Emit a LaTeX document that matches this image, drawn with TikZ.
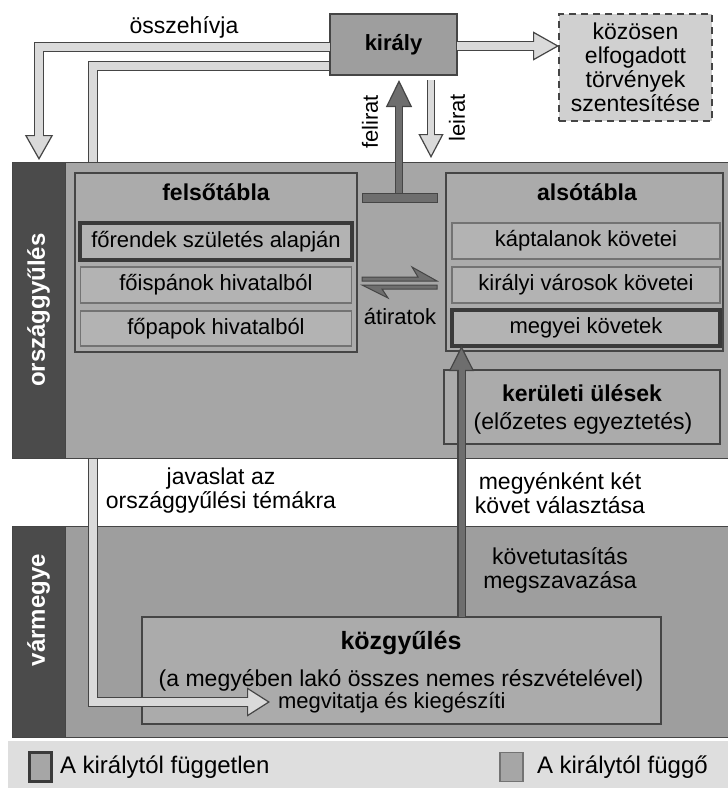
\documentclass[tikz,border=0pt]{standalone}
\usepackage{fontspec}
\setmainfont{Liberation Sans}
\usetikzlibrary{arrows.meta,calc}
\definecolor{dk}{HTML}{454545}
\definecolor{stripc}{HTML}{4B4B4B}
\definecolor{panelc}{HTML}{A6A6A6}
\definecolor{panelv}{HTML}{9E9E9E}
\definecolor{boxf}{HTML}{ABABAB}
\definecolor{itemf}{HTML}{B3B3B3}
\definecolor{itemd}{HTML}{737373}
\definecolor{indd}{HTML}{3A3A3A}
\definecolor{lt}{HTML}{DADADA}
\definecolor{md}{HTML}{6E6E6E}
\definecolor{legf}{HTML}{DEDEDE}
\definecolor{dashf}{HTML}{D0D0D0}
\pgfdeclarelayer{low}
\pgfdeclarelayer{jav}
\pgfsetlayers{low,jav,main}
\begin{document}
\begin{tikzpicture}[x=1pt,y=-1pt,
  every node/.style={inner sep=0pt, outer sep=0pt, font=\fontsize{23}{24}\selectfont},
  rect/.style={rectangle, draw=dk, line width=0.8pt},
  tbl/.style={rectangle, draw=dk, line width=1.3pt, fill=boxf},
  itembox/.style={rectangle, draw=itemd, line width=1.4pt, fill=itemf, font=\fontsize{22}{24}\selectfont},
  indep/.style={rectangle, draw=indd, line width=3.2pt, fill=itemf, font=\fontsize{22}{24}\selectfont},
  ttl/.style={font=\bfseries\fontsize{23}{26}\selectfont},
  vlabel/.style={rotate=90, text=white, font=\bfseries\fontsize{24}{26}\selectfont},
  hout/.style 2 args={draw=dk, line width=10pt, line join=miter, -{Triangle[length=#1pt,width=#2pt,line width=1.2pt,fill=lt]}},
  hin/.style={draw=lt, line width=7.4pt, line join=miter, shorten >=#1},
  dout/.style 2 args={draw=dk, line width=8.5pt, -{Triangle[length=#1pt,width=#2pt,line width=1.2pt,fill=md]}},
  din/.style={draw=md, line width=6pt, shorten >=#1},
]
\useasboundingbox (0,0) rectangle (728,788);

\begin{pgfonlayer}{low}
  \fill[white] (0,0) rectangle (728,788);
  \node[rect, fill=panelv, minimum width=663pt, minimum height=211pt] (pv) at (396.5,631.5) {};
  \node[rect, fill=stripc, minimum width=53pt, minimum height=211pt] (sv) at (38.5,631.5) {};
  \node[rect, draw=none, fill=legf, minimum width=720pt, minimum height=47pt] (leg) at (368,764.5) {};
  \node[tbl, minimum width=519pt, minimum height=107pt] (kozgy) at (401.5,670.5) {};
\end{pgfonlayer}

% országgyűlés panel
\node[rect, fill=panelc, minimum width=663pt, minimum height=296pt] (po) at (396.5,310) {};
\node[rect, fill=stripc, minimum width=53pt, minimum height=296pt] (so) at (38.5,310) {};
\node[vlabel] (lo) at (38.5,310) {országgyűlés};
\node[vlabel] (lv) at (38.5,610) {vármegye};

% king and dashed box
\node[rectangle, draw=dk, line width=1.3pt, fill=panelc!95!black, minimum width=127pt, minimum height=61pt, font=\bfseries\fontsize{22}{24}\selectfont] (king) at (393.5,44.5) {király};
\node[rectangle, draw=dk, line width=1.3pt, dash pattern=on 7pt off 5pt, fill=dashf, minimum width=153pt, minimum height=107pt, align=center] (law) at (635.5,67.5) {közösen\\elfogadott\\törvények\\szentesítése};

% felsőtábla
\node[tbl, minimum width=282pt, minimum height=179pt] (felso) at (216,262.5) {};
\node[ttl] (felsot) at (216,192) {felsőtábla};
\node[indep, minimum width=272pt, minimum height=37pt] (forend) at (216,241.5) {főrendek születés alapján};
\node[itembox, minimum width=271pt, minimum height=36pt] (foisp) at (216,285) {főispánok hivatalból};
\node[itembox, minimum width=271pt, minimum height=35pt] (fopap) at (216,328.5) {főpapok hivatalból};

% alsótábla
\node[tbl, minimum width=277pt, minimum height=178pt] (also) at (584.5,262) {};
\node[ttl] (alsot) at (587,192) {alsótábla};
\node[itembox, minimum width=268pt, minimum height=36pt] (kapt) at (586,241) {káptalanok követei};
\node[itembox, minimum width=268pt, minimum height=36pt] (kiral) at (586,285) {királyi városok követei};
\node[indep, minimum width=268pt, minimum height=36pt] (megyei) at (586,328) {megyei követek};

% kerületi ülések
\node[tbl, minimum width=276pt, minimum height=74pt] (ker) at (582,407) {};
\node[ttl] (kert) at (582,393) {kerületi ülések};
\node (kers) at (583,423) {(előzetes egyeztetés)};

% közgyűlés texts
\node[font=\bfseries\fontsize{25}{28}\selectfont] (kozgyt) at (401,643) {közgyűlés};
\node (kozgys) at (401,680) {(a megyében lakó összes nemes részvételével)};
\node[anchor=west, font=\fontsize{22}{24}\selectfont] (kozgym) at (278,703) {megvitatja és kiegészíti};

% labels
\node (osszl) at (184,27) {összehívja};
\node[align=center] (javl) at (221,491) {javaslat az\\országgyűlési témákra};
\node[align=center] (megyl) at (560,493) {megyénként két\\követ választása};
\node[align=center] (kovl) at (560,570) {követutasítás\\megszavazása};
\node[font=\fontsize{22}{24}\selectfont] (atl) at (400,317) {átiratok};
\node[rotate=90, font=\fontsize{22}{24}\selectfont] (fell) at (370,122) {felirat};
\node[rotate=90, font=\fontsize{22}{24}\selectfont] (leil) at (457,118) {leirat};

% T bar
\node[rectangle, draw=dk, line width=1pt, fill=md, minimum width=75pt, minimum height=9pt] (tbar) at (399.5,197.5) {};

% coordinates
\coordinate (ohtip) at (39,160);
\coordinate (jbend) at (93,702);
\coordinate (jtip) at (270,702);
\coordinate (ltip) at (431,158);
\coordinate (fx) at (399,0);
\coordinate (mx) at (461.5,0);

% összehívja
\draw[hout={25}{28}] (king.west |- 0,47) -| (ohtip);
\draw[hin=22pt] (king.west |- 0,47) -| (ohtip);
% javaslat (hidden behind országgyűlés panel)
\begin{pgfonlayer}{jav}
\draw[hout={23}{29}] (king.west |- 0,66) -| (jbend) -- (jtip);
\draw[hin=20pt] (king.west |- 0,66) -| (jbend) -- (jtip);
\end{pgfonlayer}
% király -> törvények
\draw[hout={26}{29}] (king.east |- 0,46) -- (law.west |- 0,46);
\draw[hin=23pt] (king.east |- 0,46) -- (law.west |- 0,46);
% leirat
\draw[hout={24}{25}, line width=8.5pt, shorten <=5pt] (king.south -| ltip) -- (ltip);
\draw[hin=21pt, line width=6pt, shorten <=5pt] (king.south -| ltip) -- (ltip);
% felirat
\draw[dout={27}{26}, shorten >=5pt] (tbar.north -| fx) -- (king.south -| fx);
\draw[din=29pt] (tbar.center -| fx) -- (king.south -| fx);
\node[rectangle, draw=dk, line width=1pt, fill=md, minimum width=75pt, minimum height=9pt] at (tbar) {};
\draw[md, line width=6pt] ($(tbar.north -| fx)+(0,1)$) -- ($(tbar.north -| fx)+(0,6)$);
% megyénként két követ
\draw[dout={25}{25}] (kozgy.north -| mx) -- (megyei.south -| mx);
\draw[din=22pt] (kozgy.north -| mx) -- (megyei.south -| mx);

% átiratok harpoons
\coordinate (hl) at (362,0);
\coordinate (hr) at (437,0);
\draw[dk, line width=1pt, fill=md, line join=miter] (hl |- 0,277) -- (418,277) -- (412,267) -- (hr |- 0,281) -- (hl |- 0,281) -- cycle;
\draw[dk, line width=1pt, fill=md, line join=miter] (hr |- 0,285) -- (hl |- 0,285) -- (388,298) -- (382,289) -- (hr |- 0,289) -- cycle;

% legend
\node[rectangle, draw=indd, line width=3pt, fill=panelc, minimum width=22pt, minimum height=29pt] (lg1) at (40,767) {};
\node[anchor=west, font=\fontsize{24}{26}\selectfont] (lg1t) at (60,767) {A királytól független};
\node[rectangle, draw=itemd, line width=1.5pt, fill=panelc, minimum width=23pt, minimum height=29pt] (lg2) at (511.5,767) {};
\node[anchor=west, font=\fontsize{24}{26}\selectfont] (lg2t) at (537,767) {A királytól függő};
\end{tikzpicture}
\end{document}
